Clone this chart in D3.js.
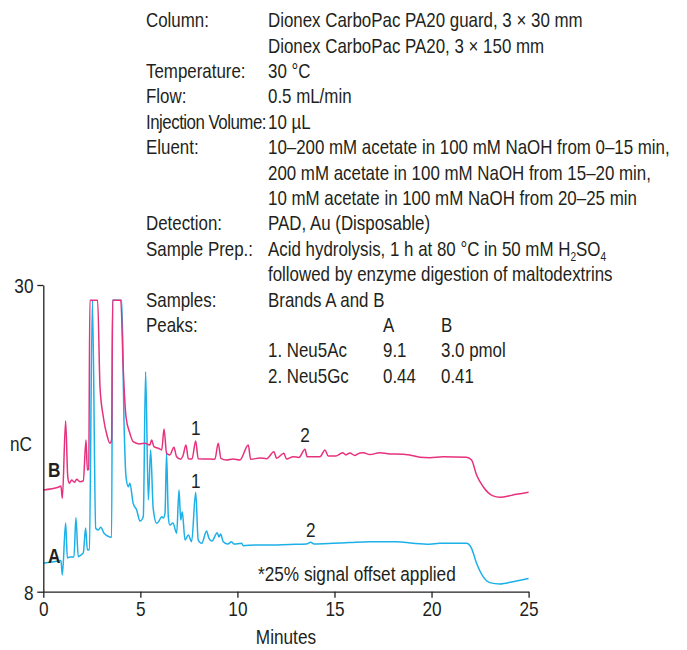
<!DOCTYPE html>
<html>
<head>
<meta charset="utf-8">
<script src="https://cdn.jsdelivr.net/npm/d3@7"></script>
<style>
  body { margin: 0; background: #fff; }
  svg text { font-family: "Liberation Sans", Arial, sans-serif; fill: #231f20; }
</style>
</head>
<body>
<div id="chart"></div>
<script>
// trace B (brand B, pink) - minutes / nC
var timeB = [0, 0.77, 0.91, 0.98, 1.15, 1.26, 1.34, 1.46, 1.60, 1.72, 1.89, 2.06, 2.20, 2.27, 2.34, 2.40, 2.80, 2.92, 3.09, 3.30, 3.43, 3.52, 3.57, 3.99, 4.12, 4.26, 4.46, 4.63, 4.95, 5.24, 5.49, 5.58, 5.70, 5.92, 6.10, 6.22, 6.35, 6.52, 6.73, 6.86, 7.07, 7.19, 7.35, 7.47, 7.66, 7.85, 7.98, 8.41, 8.84, 9.01, 9.15, 9.44, 9.77, 10.13, 10.56, 10.68, 11.16, 11.50, 11.88, 12.02, 12.39, 12.53, 12.87, 13.17, 13.48, 13.59, 13.90, 14.25, 14.51, 14.68, 15.07, 15.42, 15.59, 15.79, 16.05, 16.31, 16.48, 16.82, 17.34, 17.85, 18.20, 18.88, 19.40, 19.91, 20.60, 21.80, 22.06, 22.32, 22.66, 23.17, 23.52, 24.20, 24.86, 25];
var signalB = [15.30, 15.49, 15.58, 14.70, 20.25, 16.25, 15.78, 16.01, 15.85, 16.06, 15.89, 15.96, 18.88, 16.73, 16.78, 28.9, 28.9, 22.71, 20.55, 19.12, 18.65, 18.88, 28.9, 28.9, 23.90, 20.55, 19.36, 18.76, 18.60, 18.65, 18.52, 18.88, 18.40, 18.29, 18.17, 19.67, 17.93, 17.81, 18.36, 17.70, 17.50, 17.73, 18.52, 17.54, 17.52, 18.81, 17.54, 17.52, 17.50, 18.65, 17.57, 17.45, 17.52, 17.45, 18.52, 17.50, 17.59, 17.54, 18.04, 17.57, 17.93, 17.52, 17.68, 17.63, 18.22, 17.68, 17.68, 17.68, 18.17, 17.73, 17.73, 17.97, 17.81, 17.95, 17.77, 17.95, 17.97, 17.84, 17.97, 17.88, 17.88, 17.81, 17.64, 17.61, 17.68, 17.64, 17.45, 16.37, 15.53, 14.87, 14.77, 14.94, 15.10, 15.13];

// trace A (brand A, blue)
var timeA = [0, 0.76, 0.91, 0.98, 1.15, 1.24, 1.37, 1.58, 1.68, 1.80, 1.89, 2.06, 2.18, 2.27, 2.37, 2.53, 2.70, 2.83, 2.96, 3.13, 3.30, 3.52, 3.57, 4.04, 4.16, 4.26, 4.38, 4.46, 4.63, 4.81, 4.98, 5.15, 5.27, 5.41, 5.53, 5.66, 5.84, 5.96, 6.10, 6.18, 6.27, 6.35, 6.44, 6.52, 6.68, 6.87, 6.99, 7.08, 7.16, 7.30, 7.47, 7.64, 7.85, 7.98, 8.16, 8.41, 8.53, 8.69, 8.96, 9.05, 9.13, 9.27, 9.51, 9.70, 9.82, 10.22, 10.30, 10.90, 11.50, 12.70, 13.56, 13.78, 13.94, 14.93, 15.79, 16.82, 18.20, 19.05, 19.91, 20.42, 21.80, 22.06, 22.32, 22.66, 23.00, 23.52, 24.20, 24.86, 25];
var signalA = [10.04, 10.20, 10.24, 9.20, 12.93, 10.42, 10.49, 10.49, 13.31, 10.51, 10.59, 10.78, 12.57, 10.99, 11.04, 28.9, 12.55, 12.43, 12.62, 12.19, 12.00, 11.90, 28.9, 28.9, 20.08, 16.25, 15.53, 15.78, 14.34, 13.86, 13.07, 13.38, 23.78, 14.58, 18.17, 14.00, 12.91, 13.07, 13.38, 13.29, 13.62, 17.93, 13.38, 12.78, 12.93, 12.19, 15.30, 13.14, 13.74, 11.71, 12.07, 11.59, 15.13, 11.71, 11.47, 12.35, 11.85, 11.64, 12.23, 11.92, 12.14, 11.59, 11.42, 11.59, 11.42, 11.47, 11.30, 11.35, 11.35, 11.39, 11.42, 11.54, 11.42, 11.47, 11.53, 11.59, 11.59, 11.47, 11.40, 11.47, 11.47, 11.11, 10.04, 9.08, 8.65, 8.55, 8.72, 8.91, 8.95];

var xTicks = [0, 5, 10, 15, 20, 25];
var yTicks = [8, 30];

// peak labels: number, minutes, nC for the label
var peakNames = ["1", "2", "1", "2"];
var peakTimes = [7.85, 13.48, 7.85, 13.78];
var peakLevels = [19.8, 19.3, 16.0, 12.5];

var condLabels = ["Column:", "", "Temperature:", "Flow:", "Injection Volume:", "Eluent:", "", "", "Detection:", "Sample Prep.:", "", "Samples:", "Peaks:", "", ""];
var condValues = ["Dionex CarboPac PA20 guard, 3 \u00d7 30 mm", "Dionex CarboPac PA20, 3 \u00d7 150 mm", "30 \u00b0C", "0.5 mL/min", "10 \u00b5L",
  "10\u2013200 mM acetate in 100 mM NaOH from 0\u201315 min,", "200 mM acetate in 100 mM NaOH from 15\u201320 min,", "10 mM acetate in 100 mM NaOH from 20\u201325 min",
  "PAD, Au (Disposable)", "SAMPLEPREP", "followed by enzyme digestion of maltodextrins", "Brands A and B", "", "1. Neu5Ac", "2. Neu5Gc"];
var amountA = ["A", "9.1", "0.44"];
var amountB = ["B", "3.0 pmol", "0.41"];

var width = 687;
var height = 650;
var pink = "#e6317d";
var blue = "#1cb0e8";
var narrow = 0.82;   // fake a condensed face
var svg, x, y;

renderChart();

function txt(px, py, str, size, anchor, squeeze){
    var t = svg.append("text")
        .attr("transform", "translate(" + px + "," + py + ") scale(" + (squeeze || narrow) + ",1)")
        .attr("dy", "0.36em")
        .attr("text-anchor", anchor || "start")
        .style("font-size", size + "px");
    if (str != null) t.text(str);
    return t;
}

function renderChart(){
    svg = d3.select("#chart")
        .append("svg")
        .attr("width", width)
        .attr("height", height);

    x = d3.scaleLinear().domain([0, 25]).range([43.3, 528.6]);
    y = d3.scaleLinear().domain([8, 30]).range([591.7, 285]);

    drawConditions();

    var line = d3.line()
        .x(function(d){ return x(d[0]); })
        .y(function(d){ return y(d[1]); })
        .curve(d3.curveMonotoneX);

    var seriesA = d3.zip(timeA, signalA);
    var seriesB = d3.zip(timeB, signalB);

    svg.append("path")
        .datum(seriesA)
        .attr("fill", "none")
        .attr("stroke", blue)
        .attr("stroke-width", 1.5)
        .attr("d", line);

    svg.append("path")
        .datum(seriesB)
        .attr("fill", "none")
        .attr("stroke", pink)
        .attr("stroke-width", 1.5)
        .attr("d", line);

    // axes
    var xAxis = svg.append("g")
        .attr("transform", "translate(0," + y(8) + ")")
        .call(d3.axisBottom(x).tickValues(xTicks).tickSize(6).tickSizeOuter(0).tickPadding(3));
    var yAxis = svg.append("g")
        .attr("transform", "translate(" + x(0) + ",0)")
        .call(d3.axisLeft(y).tickValues(yTicks).tickSize(6).tickSizeOuter(0).tickPadding(4));

    [xAxis, yAxis].forEach(function(a){
        a.selectAll("path, line").attr("stroke", "#231f20").attr("stroke-width", 1.3);
        a.selectAll("text")
            .style("font-size", "21px")
            .attr("fill", "#231f20")
            .attr("transform", "scale(" + narrow + ",1)");
    });
    xAxis.selectAll("text").attr("dy", "0.75em");
    yAxis.selectAll("text").attr("dy", "0.36em").attr("x", -12);

    txt(x(12.5), 636, "Minutes", 21, "middle");
    txt(32, 443, "nC", 21, "end");

    // trace labels
    txt(48, 469, "B", 21).style("font-weight", "bold");
    txt(48, 555, "A", 21).style("font-weight", "bold");

    peakNames.forEach(function(d, i){
        txt(x(peakTimes[i]), y(peakLevels[i]), d, 21, "middle");
    });

    txt(258, 574, "*25% signal offset applied", 20.5, "start", 0.84);
}

function drawConditions(){
    var top = 20;
    var step = 25.4;
    var fs = 20;
    var sq = 0.845;

    condLabels.forEach(function(t, i){
        if (t.length == 0) return;
        var l = txt(146, top + i * step, t, fs, "start", sq);
        if (t == "Injection Volume:") l.style("letter-spacing", "-0.6px");
    });

    condValues.forEach(function(t, i){
        if (t.length == 0) return;
        if (t == "SAMPLEPREP") {
            var tx = txt(268, top + i * step, null, fs, "start", sq);
            tx.append("tspan").text("Acid hydrolysis, 1 h at 80 \u00b0C in 50 mM H");
            tx.append("tspan").attr("dy", 5).style("font-size", "12px").text("2");
            tx.append("tspan").attr("dy", -5).text("SO");
            tx.append("tspan").attr("dy", 5).style("font-size", "12px").text("4");
        } else {
            txt(268, top + i * step, t, fs, "start", sq);
        }
    });

    // peak amounts table
    [amountA, amountB].forEach(function(col, c){
        col.forEach(function(t, r){
            txt(c == 0 ? 383 : 441, top + (12 + r) * step, t, fs, "start", sq);
        });
    });
}
</script>
</body>
</html>
